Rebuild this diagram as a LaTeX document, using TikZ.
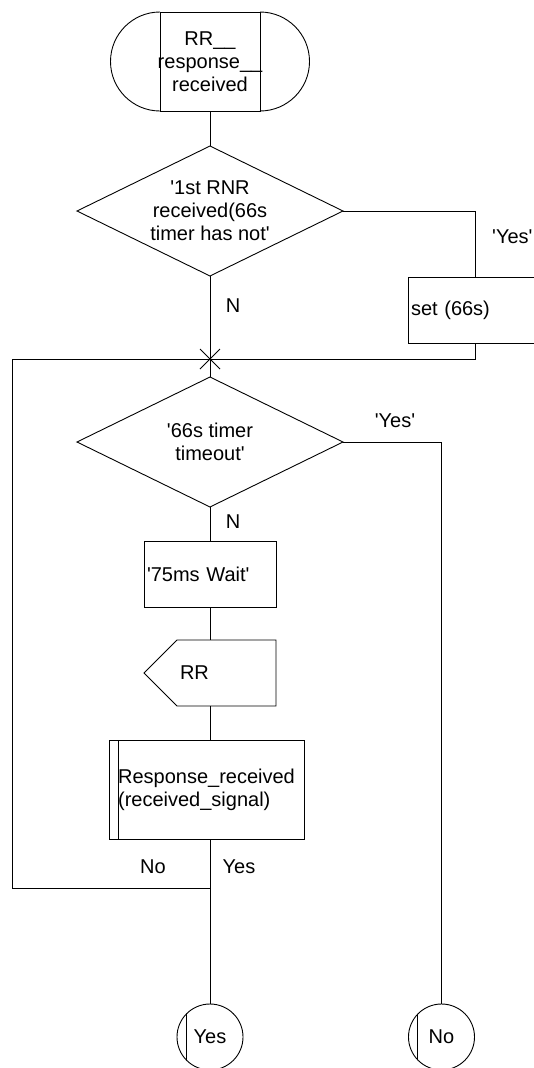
\documentclass[tikz,border=0pt]{standalone}
\usepackage{fontspec}
\setmainfont{Liberation Sans}
\usetikzlibrary{shapes.geometric,shapes.misc}
\newcommand{\sq}{\textquotesingle}

\begin{document}
\begin{tikzpicture}[x=1pt,y=-1pt,line width=0.9pt,
  every node/.style={font=\fontsize{20}{23}\selectfont,inner sep=0pt,outer sep=0pt},
  term/.style={rectangle,minimum width=199pt,minimum height=99pt,align=center},
  dec/.style={draw,diamond,aspect=2.046,minimum width=266pt,minimum height=130pt,align=center},
  task/.style={draw,rectangle,minimum height=66pt,inner xsep=3pt,align=left},
  sig/.style={rectangle,minimum height=66pt,text width=60pt,inner xsep=36pt,align=left},
  proc/.style={draw,rectangle,minimum width=195pt,minimum height=99pt,align=left,
    path picture={\draw ([xshift=9pt]path picture bounding box.north west)
      -- ([xshift=9pt]path picture bounding box.south west);}},
  conn/.style={draw,circle,minimum size=66pt,
    path picture={\draw ([xshift=9pt]path picture bounding box.north west)
      -- ([xshift=9pt]path picture bounding box.south west);}},
  jnc/.style={draw,cross out,minimum size=20pt},
  lab/.style={anchor=center}]
\useasboundingbox (0,0) rectangle (533,1068);
% start
\node[term] (start) at (210,61.5) {RR\_\_\\response\_\_\\received};
\draw ([xshift=49.5pt]start.south west) rectangle ([xshift=-49.5pt]start.north east);
\draw ([xshift=49.5pt]start.north west) arc[start angle=90,end angle=270,radius=49.5pt];
\draw ([xshift=-49.5pt]start.north east) arc[start angle=90,end angle=-90,radius=49.5pt];
% first decision
\node[dec] (rnr) at (210,211) {\sq 1st RNR\\received(66s\\timer has not\sq};
\node[task,text width=128pt] (set) at (475,310) {set (66s)};
\node[jnc] (jn) at (210,359) {};
% loop body
\node[dec] (tmo) at (210,442) {\sq 66s timer\\timeout\sq};
\node[task,text width=126pt] (wait) at (210,574) {\sq 75ms Wait\sq};
\node[sig] (rr) at (210,673) {RR};
\draw (rr.north east) -- (rr.south east) -- ([xshift=33pt]rr.south west)
  -- (rr.west) -- ([xshift=33pt]rr.north west) -- cycle;
\node[proc] (resp) at (206.5,789.5) {Response\_received\\(received\_signal)};
% exits
\node[conn] (yes) at (210,1037) {Yes};
\node[conn] (no) at (441.5,1037) {No};
\coordinate (lpa) at (210,888);
\coordinate (lpb) at (12,359);
% labels
\node[lab,anchor=east] (lyes1) at (532.5,237) {\sq Yes\sq};
\node[lab] (ln1) at (233,306) {N};
\node[lab] (lyes2) at (395,421) {\sq Yes\sq};
\node[lab] (ln2) at (233,522) {N};
\node[lab] (lno) at (153,867) {No};
\node[lab] (lyes3) at (239,867) {Yes};
% connectors
\draw (start) -- (rnr);
\draw (rnr) -- (jn.center);
\draw (rnr.east) -| (set.north);
\draw (set.south) |- (jn.center);
\draw (jn.center) -- (tmo);
\draw (tmo) -- (wait);
\draw (wait) -- (rr);
\draw (rr.south) -- (rr.south |- resp.north);
\draw (yes.north |- resp.south) -- (yes.north);
\draw (lpa) -| (lpb) -- (jn.center);
\draw (tmo.east) -| (no.north);
\end{tikzpicture}
\end{document}
